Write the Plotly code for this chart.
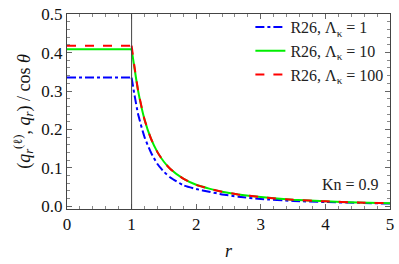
import plotly.graph_objects as go

# r values and read-off flux values
r_in = [0.0, 1.0]
blue_in = [0.335, 0.335]
green_in = [0.409, 0.409]
red_in = [0.418, 0.418]

r_out = [1.0, 1.05, 1.1, 1.2, 1.3, 1.4, 1.5, 1.6, 1.8, 2.0, 2.2, 2.4, 2.65, 3.0, 3.5, 4.0, 4.5, 5.0]
blue_out = [0.335, 0.285, 0.240, 0.180, 0.140, 0.110, 0.090, 0.075, 0.055, 0.045, 0.038, 0.031, 0.025, 0.019, 0.014, 0.011, 0.009, 0.007]
green_out = [0.409, 0.354, 0.301, 0.226, 0.176, 0.141, 0.116, 0.097, 0.072, 0.056, 0.046, 0.038, 0.031, 0.024, 0.017, 0.013, 0.010, 0.008]
red_out = [0.418, 0.357, 0.302, 0.226, 0.176, 0.141, 0.116, 0.097, 0.072, 0.056, 0.046, 0.038, 0.031, 0.024, 0.017, 0.013, 0.010, 0.008]

labels = ["R26, Λ<sub>κ</sub> = 1", "R26, Λ<sub>κ</sub> = 10", "R26, Λ<sub>κ</sub> = 100"]
colors = ["#0000ff", "#00ee00", "#ff0000"]
dashes = ["dashdot", "solid", "dash"]
x_ticks = [0, 1, 2, 3, 4, 5]
y_ticks = [0, 0.1, 0.2, 0.3, 0.4, 0.5]
y_ticktext = ["0.0", "0.1", "0.2", "0.3", "0.4", "0.5"]

FONT = "Liberation Serif"

fig = go.Figure()
series = [(blue_in, blue_out), (green_in, green_out), (red_in, red_out)]
for i, ((yin, yout), lab, col, dsh) in enumerate(zip(series, labels, colors, dashes)):
    fig.add_trace(go.Scatter(x=r_in, y=yin, mode="lines", name=lab, legendgroup=str(i),
                             showlegend=False, line=dict(color=col, dash=dsh, width=2)))
    fig.add_trace(go.Scatter(x=r_out, y=yout, mode="lines", name=lab, legendgroup=str(i),
                             line=dict(color=col, dash=dsh, width=2, shape="spline", smoothing=0.5)))

fig.add_vline(x=1, line=dict(color="#444444", width=1))

fig.add_annotation(x=4.86, y=0.058, xref="x", yref="y", text="Kn = 0.9", showarrow=False,
                   xanchor="right", yanchor="middle", font=dict(family=FONT, size=16, color="#222"))

axis_common = dict(showline=True, linecolor="#444", linewidth=1, mirror="ticks",
                   ticks="inside", ticklen=5, tickcolor="#666", showgrid=False, zeroline=False,
                   ticklabeloverflow="allow",
                   tickfont=dict(family=FONT, size=17, color="#111"))

fig.update_xaxes(range=[0, 5], tickvals=x_ticks, ticktext=[str(t) for t in x_ticks],
                 minor=dict(dtick=0.2, ticks="inside", ticklen=3, tickcolor="#888"),
                 title=dict(text="<i>r</i>", font=dict(family=FONT, size=18, color="#111"), standoff=10),
                 **axis_common)
fig.update_yaxes(range=[-0.007, 0.5005], tickvals=y_ticks, ticktext=y_ticktext,
                 minor=dict(dtick=0.02, ticks="inside", ticklen=3, tickcolor="#888"),
                 title=dict(text="(<i>q</i><sub><i>r</i></sub><sup>(ℓ)</sup>, <i>q</i><sub><i>r</i></sub>) / cos <i>θ</i>",
                            font=dict(family=FONT, size=18, color="#111"), standoff=6),
                 **axis_common)

fig.update_layout(width=399, height=264, margin=dict(l=67, r=5, t=7, b=55),
                  paper_bgcolor="white", plot_bgcolor="white",
                  font=dict(family=FONT),
                  legend=dict(x=0.995, y=1.02, xanchor="right", yanchor="top", bgcolor="rgba(0,0,0,0)",
                              font=dict(family=FONT, size=16, color="#222"), tracegroupgap=0,
                              itemwidth=30))

fig.write_html("out.html", config={"displayModeBar": False},
               post_script="document.body.style.margin='0px';document.body.style.overflow='hidden';")
